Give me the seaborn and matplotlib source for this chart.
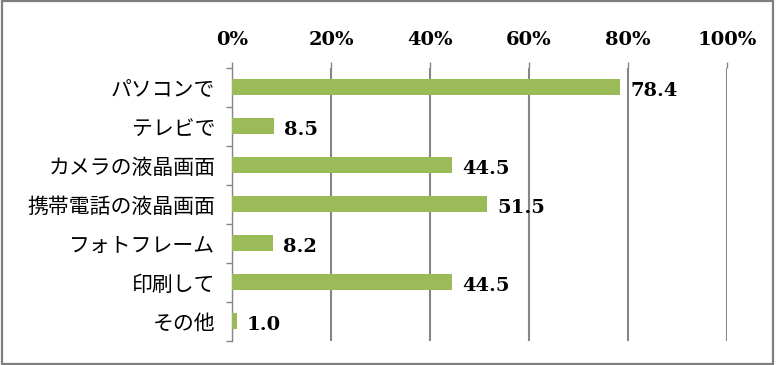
import matplotlib
matplotlib.use("Agg")
import matplotlib.pyplot as plt
import matplotlib.ticker as mticker
from matplotlib.patches import Rectangle
import seaborn as sns
import pandas as pd

# data
categories = ["パソコンで", "テレビで", "カメラの液晶画面", "携帯電話の液晶画面",
              "フォトフレーム", "印刷して", "その他"]
values = [78.4, 8.5, 44.5, 51.5, 8.2, 44.5, 1.0]
x_ticks = [0, 20, 40, 60, 80, 100]
x_tick_labels = ["0%", "20%", "40%", "60%", "80%", "100%"]

df = pd.DataFrame({"cat": categories, "val": values})

sns.set_theme(style="white")
plt.rcParams['font.family'] = ['Noto Sans CJK JP', 'DejaVu Sans']

bar_color = "#9BBB59"
grid_color = "#868686"
num_font = dict(family="DejaVu Serif", weight="bold", size=14, color="black")

fig = plt.figure(figsize=(7.76, 3.65), dpi=100)
ax = fig.add_axes([0.299, 0.066, 0.638, 0.748])

sns.barplot(data=df, x="val", y="cat", orient="h", color=bar_color,
            saturation=1, width=0.41, linewidth=0, ax=ax, zorder=3)

ax.set_xlim(0, 100)
ax.set_ylim(len(categories) - 0.5, -0.5)
ax.set_xlabel("")
ax.set_ylabel("")

# percent axis on top
ax.xaxis.tick_top()
ax.set_xticks(x_ticks)
ax.set_xticklabels(x_tick_labels, fontdict=num_font)
ax.tick_params(axis="x", which="major", direction="out", length=4.5, width=1,
               color=grid_color, pad=9, top=True, bottom=False)
ax.xaxis.grid(True, color=grid_color, linewidth=1.5, zorder=0)
ax.set_axisbelow(True)

# category labels with ticks at boundaries
ax.set_yticks(range(len(categories)))
ax.set_yticklabels(categories, fontsize=15, color="black")
ax.yaxis.set_minor_locator(mticker.FixedLocator([i - 0.5 for i in range(len(categories) + 1)]))
ax.tick_params(axis="y", which="major", length=0, pad=12)
ax.tick_params(axis="y", which="minor", direction="out", length=4.5, width=1,
               color=grid_color, left=True)

for s in ["top", "right", "bottom"]:
    ax.spines[s].set_visible(False)
ax.spines["left"].set_color(grid_color)
ax.spines["left"].set_linewidth(1)

# value labels
for i, v in enumerate(values):
    ax.text(v + 2.0, i + 0.08, f"{v:.1f}", va="center", ha="left", **num_font)

# outer frame
fig.patches.append(Rectangle((0.002, 0.004), 0.994, 0.992, transform=fig.transFigure,
                             fill=False, edgecolor="#7f7f7f", linewidth=1.6))

fig.savefig("out.png", dpi=100)
